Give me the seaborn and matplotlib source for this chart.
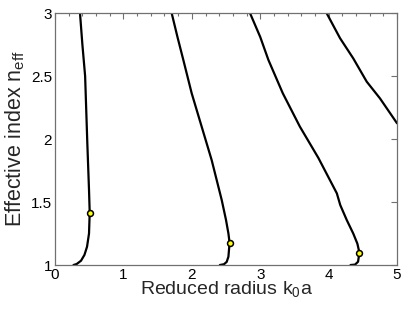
import numpy as np
import pandas as pd
import matplotlib
matplotlib.use("Agg")
import matplotlib.pyplot as plt
import seaborn as sns
from matplotlib.ticker import MultipleLocator

# mode curves (reduced radius k0*a vs effective index)
curve1_x = [0.365, 0.40, 0.44, 0.472, 0.497, 0.507, 0.497, 0.468, 0.43, 0.38, 0.317, 0.27]
curve1_y = [3.0, 2.75, 2.5, 1.97, 1.595, 1.415, 1.25, 1.145, 1.08, 1.034, 1.008, 1.0]

curve2_x = [1.705, 1.79, 1.876, 1.998, 2.144, 2.29, 2.437, 2.50, 2.535, 2.552, 2.535, 2.51, 2.47, 2.41]
curve2_y = [3.0, 2.81, 2.627, 2.363, 2.098, 1.833, 1.516, 1.357, 1.25, 1.177, 1.066, 1.025, 1.006, 1.0]

curve3_x = [2.85, 3.0, 3.12, 3.33, 3.58, 3.85, 4.12, 4.17, 4.265, 4.36, 4.42, 4.45, 4.43, 4.386, 4.32]
curve3_y = [3.0, 2.81, 2.627, 2.363, 2.098, 1.85, 1.569, 1.476, 1.357, 1.25, 1.17, 1.098, 1.026, 1.003, 1.0]

curve4_x = [3.96, 4.167, 4.36, 4.557, 4.75, 5.0]
curve4_y = [3.01, 2.80, 2.64, 2.455, 2.323, 2.125]

marker_x = [0.507, 2.552, 4.45]
marker_y = [1.415, 1.177, 1.098]

sns.set_style("white")
plt.rcParams['font.family'] = ['Liberation Sans', 'DejaVu Sans']
plt.rcParams['mathtext.fontset'] = 'custom'
plt.rcParams['mathtext.rm'] = 'Liberation Sans'
plt.rcParams['mathtext.it'] = 'Liberation Sans'

fig = plt.figure(figsize=(4.14, 3.12), dpi=100)
ax = fig.add_axes([0.1329, 0.1506, 0.8261, 0.8077])

frames = []
for i, (xs, ys) in enumerate([(curve1_x, curve1_y), (curve2_x, curve2_y),
                              (curve3_x, curve3_y), (curve4_x, curve4_y)]):
    frames.append(pd.DataFrame({"x": xs, "y": ys, "mode": i}))
df = pd.concat(frames, ignore_index=True)

for mode, sub in df.groupby("mode"):
    sns.lineplot(data=sub, x="x", y="y", sort=False, color="black",
                 linewidth=1.6, ax=ax, estimator=None)

sns.scatterplot(x=marker_x, y=marker_y, ax=ax, color="#ffff00",
                edgecolor="black", linewidth=1.1, s=18, zorder=5)

ax.set_xlim(0, 5)
ax.set_ylim(1, 3)
ax.xaxis.set_major_locator(MultipleLocator(1))
ax.xaxis.set_minor_locator(MultipleLocator(0.2))
ax.set_yticks([1, 1.5, 2, 2.5, 3])
ax.set_yticklabels(["1", "1.5", "2", "2.5", "3"])

for s in ax.spines.values():
    s.set_color("#707070")
    s.set_linewidth(0.9)
ax.tick_params(which="both", direction="in", top=True, right=True,
               color="#707070", labelsize=11, labelcolor="black")
ax.tick_params(which="major", length=4, width=0.8, pad=2)
ax.tick_params(which="minor", length=2, width=0.8)

ax.set_xlabel("Reduced radius k$_0$a", fontsize=14, labelpad=-2)
ax.set_ylabel("Effective index n$_{\\mathrm{eff}}$", fontsize=15.5, labelpad=3)

fig.savefig("out.png", dpi=100)
